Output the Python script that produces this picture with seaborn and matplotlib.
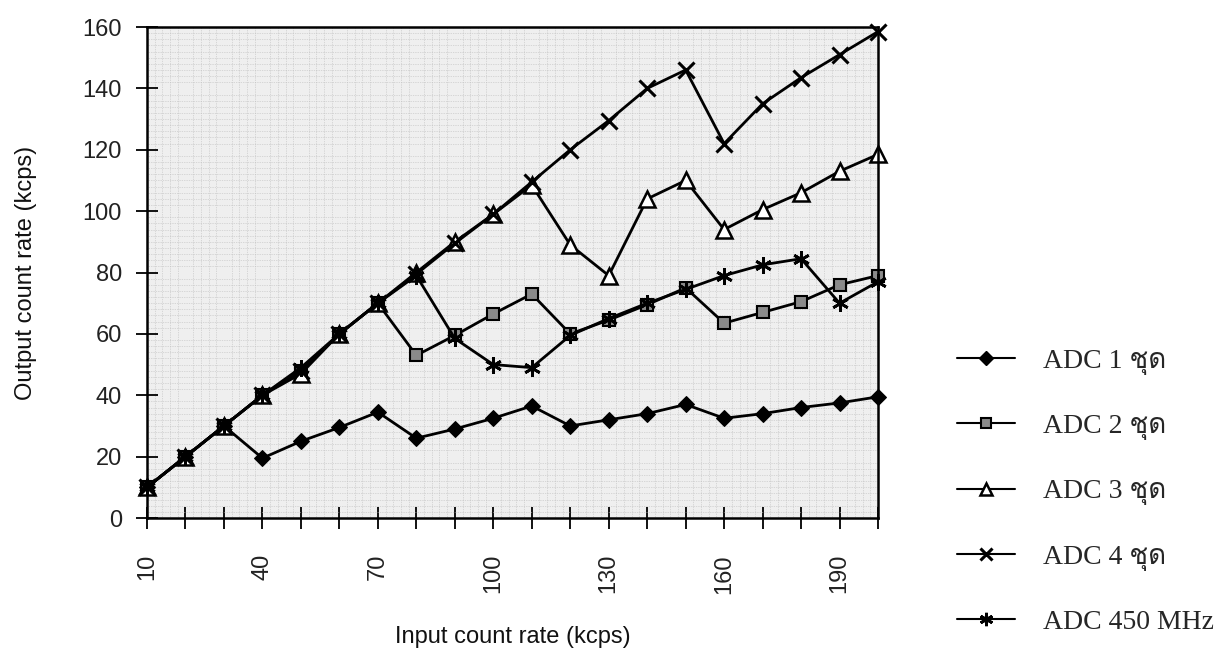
import matplotlib
matplotlib.use("Agg")
import matplotlib.pyplot as plt
from matplotlib import font_manager
from matplotlib.ft2font import FT2Font
from matplotlib.lines import Line2D
import seaborn as sns
import numpy as np

# Input count rate (kcps)
input_rate = [10, 20, 30, 40, 50, 60, 70, 80, 90, 100,
              110, 120, 130, 140, 150, 160, 170, 180, 190, 200]

# Output count rate (kcps) for each ADC configuration
adc1 = [10, 20, 30, 19.5, 25, 29.5, 34.5, 26, 29, 32.5,
        36.5, 30, 32, 34, 37, 32.5, 34, 36, 37.5, 39.5]
adc2 = [10, 20, 30, 40, 48, 60, 70, 53, 59.5, 66.5,
        73, 60, 64.5, 69.5, 75, 63.5, 67, 70.5, 76, 79]
adc3 = [10, 20, 30, 40, 47, 60, 70, 80, 90, 99,
        108.5, 89, 79, 104, 110, 94, 100.5, 106, 113, 118.5]
adc4 = [10, 20, 30, 40, 48, 60, 70, 79.5, 89.5, 99,
        109.5, 120, 129.5, 140, 146, 122, 135, 143.5, 151, 158.5]
adc450 = [10, 20, 30, 40, 49, 60, 70, 79, 58.5, 50,
          49, 59.5, 65, 70, 74.5, 79, 82.5, 84.5, 70, 77]

labels = ["ADC 1 ชุด", "ADC 2 ชุด", "ADC 3 ชุด", "ADC 4 ชุด", "ADC 450 MHz"]
x_tick_labels = ["10", "40", "70", "100", "130", "160", "190"]


def families_with(char):
    """Return installed font families that contain a glyph for `char`."""
    found = []
    paths = set(f.fname for f in font_manager.fontManager.ttflist)
    paths |= set(font_manager.findSystemFonts())
    for p in sorted(paths):
        try:
            font = FT2Font(p)
            if ord(char) in font.get_charmap():
                font_manager.fontManager.addfont(p)
                name = font_manager.FontProperties(fname=p).get_name()
                if name not in found:
                    found.append(name)
        except Exception:
            continue
    return found


thai_families = families_with("ช")

sns.set_theme(style="white")
plt.rcParams["font.family"] = ["Liberation Sans", "DejaVu Sans"] + thai_families

fig = plt.figure(figsize=(12.2, 6.51), dpi=100)
ax = fig.add_axes([0.1205, 0.2043, 0.5992, 0.7542])
ax.set_facecolor("#efefef")

styles = [
    dict(marker="D", markersize=8.5, markerfacecolor="black", markeredgecolor="black"),
    dict(marker="s", markersize=9, markerfacecolor="#8a8a8a", markeredgecolor="black",
         markeredgewidth=1.5),
    dict(marker="^", markersize=11, markerfacecolor="white", markeredgecolor="black",
         markeredgewidth=1.8),
    dict(marker="x", markersize=11, markeredgecolor="black", markeredgewidth=2.2),
    dict(marker=(6, 2, 0), markersize=12, markeredgecolor="black", markeredgewidth=2.0),
]
series = [adc1, adc2, adc3, adc4, adc450]

for vals, st, lab in zip(series, styles, labels):
    sns.lineplot(x=input_rate, y=vals, ax=ax, color="black", linewidth=2.0,
                 label=lab, legend=False, clip_on=False, **st)

ax.set_xlim(10, 200)
ax.set_ylim(0, 160)

# fine background grid
ax.set_xticks(np.arange(10, 201, 2), minor=True)
ax.set_yticks(np.arange(0, 161, 2), minor=True)
ax.grid(which="minor", color="#bdbdbd", linewidth=0.5, linestyle=(0, (1, 1.5)))
ax.grid(which="major", visible=False)
ax.set_axisbelow(True)

xt = list(range(10, 201, 10))
ax.set_xticks(xt)
ax.set_xticklabels([str(v) if str(v) in x_tick_labels else "" for v in xt],
                   rotation=90, fontsize=17)
ax.set_yticks(range(0, 161, 20))
ax.tick_params(axis="y", labelsize=17)
ax.tick_params(which="major", direction="inout", length=16, width=1.3,
               color="black", pad=10, bottom=True, left=True, labelcolor="#222222")
ax.tick_params(axis="x", which="major", pad=18)
ax.tick_params(which="minor", length=0)

for s in ax.spines.values():
    s.set_visible(True)
    s.set_color("black")
    s.set_linewidth(1.8)

ax.set_xlabel("Input count rate (kcps)", fontsize=17, labelpad=23, color="#111111")
ax.set_ylabel("Output count rate (kcps)", fontsize=17, labelpad=33, color="#111111")

handles = [Line2D([0], [0], color="black", linewidth=1.5, **st) for st in styles]
fig.legend(handles, labels, loc="center left", bbox_to_anchor=(0.764, 0.245),
           frameon=False, handlelength=2.1, handletextpad=1.0, labelspacing=1.4,
           markerscale=0.8,
           prop={"family": ["Liberation Serif", "DejaVu Serif"] + thai_families
                 + ["DejaVu Sans"], "size": 20})

fig.savefig("out.png", dpi=100)
